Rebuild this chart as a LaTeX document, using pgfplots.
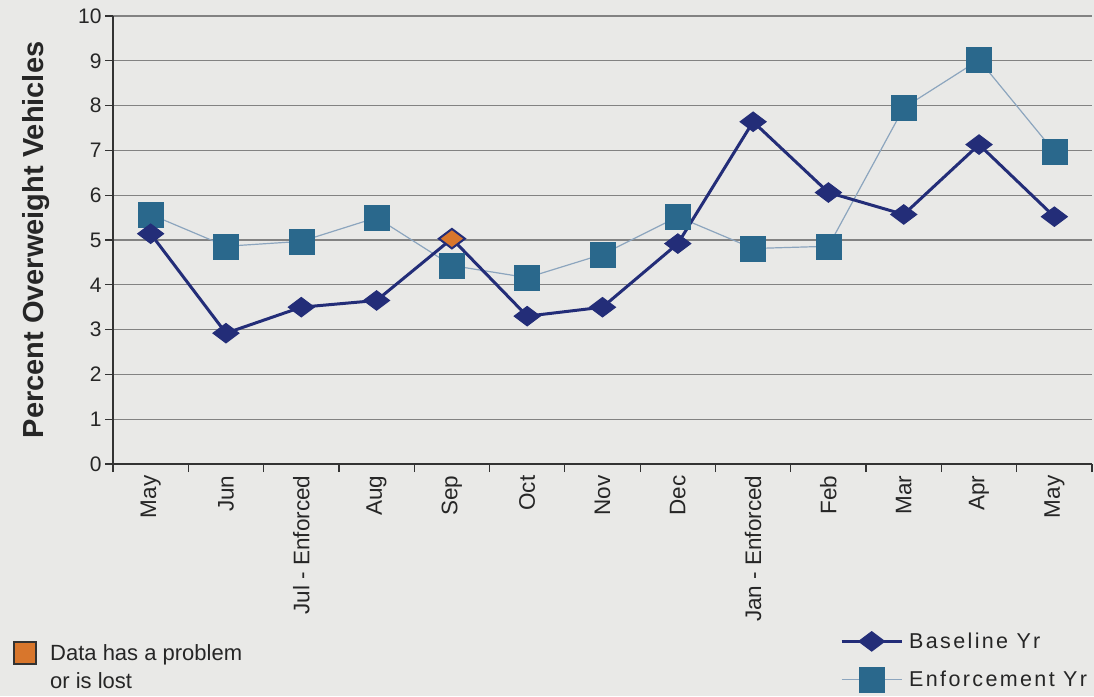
\documentclass[border=0pt]{standalone}
\usepackage{pgfplots}
\pgfplotsset{compat=1.18}
\usepackage{fontspec}
\setmainfont{Liberation Sans}
\usetikzlibrary{backgrounds}
\definecolor{bgc}{RGB}{233,233,231}
\definecolor{navy}{RGB}{35,45,120}
\definecolor{sqc}{RGB}{42,104,140}
\definecolor{lightline}{RGB}{140,165,190}
\definecolor{orangec}{RGB}{216,118,44}
\definecolor{gridc}{RGB}{130,130,130}
\begin{document}
\begin{tikzpicture}[x=1pt,y=1pt]
\begin{axis}[name=ax, at={(0,0)}, anchor=south west,
  scale only axis, width=979pt, height=448pt,
  xmin=-0.5, xmax=12.5, ymin=0, ymax=10,
  axis x line*=bottom, axis y line*=left,
  xtick={0,...,12},
  xticklabels={May,Jun,Jul - Enforced,Aug,Sep,Oct,Nov,Dec,Jan - Enforced,Feb,Mar,Apr,May},
  minor xtick={-0.5,0.5,...,12.5},
  major x tick style={draw=none},
  ytick={0,...,10},
  ymajorgrids, grid style={gridc, line width=1.1pt},
  tick align=outside, major tick length=8pt, minor tick length=8pt,
  tick style={line width=1.2pt, black!80},
  axis line style={line width=1.5pt, black!80},
  /pgf/number format/assume math mode=true,
  xticklabel style={rotate=90, anchor=east, font=\fontsize{22.5}{22.5}\selectfont, text=black!85},
  yticklabel style={font=\fontsize{21}{21}\selectfont, text=black!85},
  ylabel={Percent Overweight Vehicles},
  ylabel style={font=\bfseries\fontsize{29}{29}\selectfont, at={(axis description cs:-0.0787,0.5)}, anchor=center, text=black!85},
  reverse legend,
  legend style={at={(axis description cs:0.7426,-0.372)}, anchor=north west, draw=none, fill=none,
    inner sep=0pt, row sep=15pt, font=\fontsize{21.5}{21.5}\selectfont\addfontfeature{LetterSpace=11}, text=black!85,
    /tikz/every odd column/.append style={column sep=4pt}},
  legend cell align=left,
  legend image code/.code={\draw[mark repeat=2,mark phase=2] plot coordinates {(0pt,0pt) (30pt,0pt) (60pt,0pt)};},
]
\addplot[color=lightline, line width=1.2pt, mark=square*, mark size=12.5pt,
  mark options={fill=sqc, draw=sqc, line width=0.5pt}] coordinates {
  (0,5.57) (1,4.86) (2,4.97) (3,5.50) (4,4.43) (5,4.16) (6,4.68)
  (7,5.52) (8,4.81) (9,4.86) (10,7.95) (11,9.02) (12,6.97)};
\addlegendentry{Enforcement Yr}
\addplot[color=navy, line width=3pt, mark=diamond*, mark size=13pt,
  mark options={rotate=90, fill=navy, draw=navy, line width=1pt}] coordinates {
  (0,5.14) (1,2.92) (2,3.50) (3,3.65) (4,5.03) (5,3.30) (6,3.50)
  (7,4.92) (8,7.64) (9,6.06) (10,5.57) (11,7.13) (12,5.52)};
\addlegendentry{Baseline Yr}
\addplot[forget plot, only marks, mark=diamond*, mark size=13pt,
  mark options={rotate=90, fill=orangec, draw=navy, line width=2pt}] coordinates {(4,5.03)};
\end{axis}
\node[draw=black!80, line width=1.2pt, fill=orangec, minimum size=22pt, inner sep=0pt] at (-88pt,-189pt) {};
\node[anchor=north west, align=left, font=\fontsize{22}{28}\selectfont, text=black!85, inner sep=0pt] at (-63pt,-180pt) {Data has a problem\\or is lost};
\begin{scope}[on background layer]
\fill[bgc] (-113pt,-232pt) rectangle (981pt,464pt);
\end{scope}
\pgfresetboundingbox
\useasboundingbox (-113pt,-232pt) rectangle (981pt,464pt);
\end{tikzpicture}
\end{document}
